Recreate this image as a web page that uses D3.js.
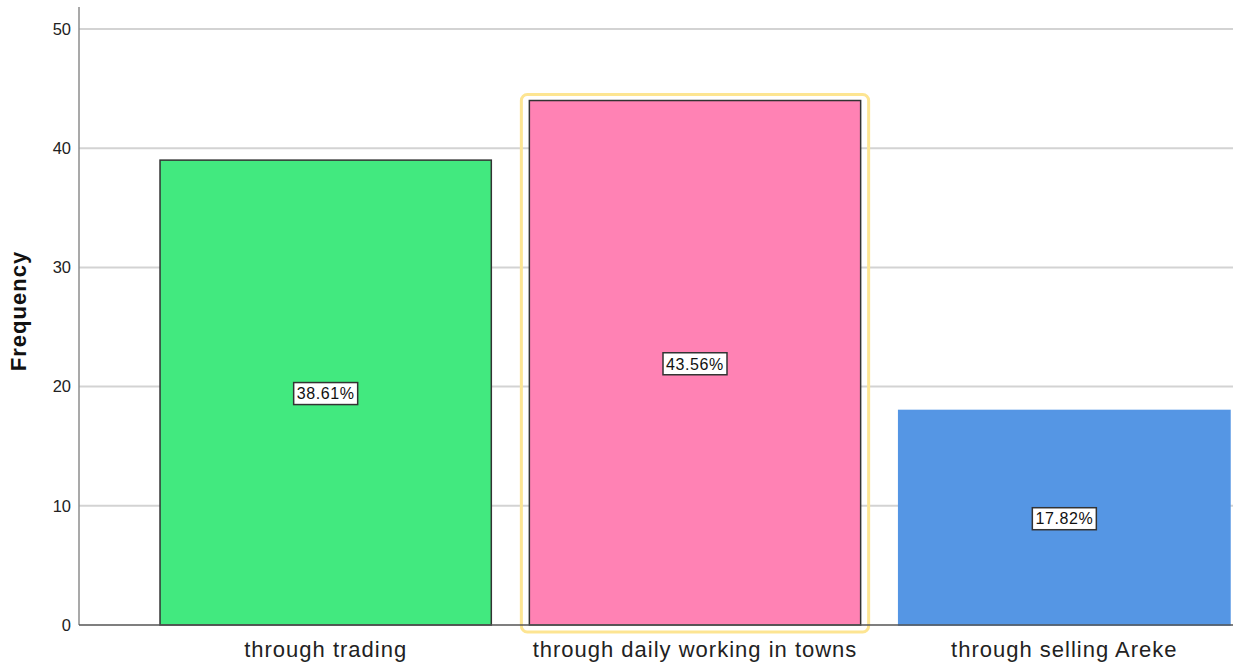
<!DOCTYPE html>
<html>
<head>
<meta charset="utf-8">
<script src="https://cdn.jsdelivr.net/npm/d3@7"></script>
<style>
  body { margin: 0; background: #fff; }
  text { font-family: Arial, "Liberation Sans", sans-serif; }
</style>
</head>
<body>
<svg class="chart" width="1233" height="667"></svg>
<script>
var categories = ["through trading", "through daily working in towns", "through selling Areke"];
var counts = [39, 44, 18];
var percentLabels = ["38.61%", "43.56%", "17.82%"];
var barColors = ["#42e97f", "#ff82b4", "#5596e4"];
var barStrokes = ["#333333", "#333333", "#5596e4"];
var yTicks = [0, 10, 20, 30, 40, 50];
var highlighted = 1;

var svg = d3.select(".chart"),
    width = +svg.attr("width"),
    height = +svg.attr("height");

var axisX = 79, baseY = 625, topY = 7;

var y = d3.scaleLinear()
    .domain([0, 50])
    .range([baseY, 29]);

var x = d3.scaleBand()
    .domain(categories)
    .range([141, 1249])
    .paddingInner(0.103)
    .paddingOuter(0.0515);

// gridlines
svg.append("g")
  .selectAll("line")
  .data(yTicks.filter(function(d) { return d > 0; }))
  .enter().append("line")
    .attr("x1", axisX).attr("x2", width)
    .attr("y1", function(d) { return y(d); })
    .attr("y2", function(d) { return y(d); })
    .style("stroke", "#d3d3d3")
    .style("stroke-width", 2);

// y axis
var yAxis = svg.append("g")
    .attr("transform", "translate(" + axisX + ",0)")
    .call(d3.axisLeft(y).tickValues(yTicks).tickSize(0).tickPadding(8));
yAxis.select(".domain").remove();
yAxis.selectAll("text")
    .style("font-size", "16.5px")
    .style("fill", "#222");

svg.append("line")
    .attr("x1", axisX).attr("x2", axisX)
    .attr("y1", topY).attr("y2", baseY)
    .style("stroke", "#8c8c8c")
    .style("stroke-width", 1.5);

// highlight box
svg.append("rect")
    .attr("x", x(categories[highlighted]) - 8)
    .attr("y", y(counts[highlighted]) - 6)
    .attr("width", x.bandwidth() + 16)
    .attr("height", baseY - y(counts[highlighted]) + 13)
    .attr("rx", 6)
    .style("fill", "none")
    .style("stroke", "#fde592")
    .style("stroke-width", 3);

// bars
svg.append("g")
  .selectAll("rect")
  .data(counts)
  .enter().append("rect")
    .attr("x", function(d, i) { return x(categories[i]); })
    .attr("y", function(d) { return y(d); })
    .attr("width", x.bandwidth())
    .attr("height", function(d) { return baseY - y(d); })
    .style("fill", function(d, i) { return barColors[i]; })
    .style("stroke", function(d, i) { return barStrokes[i]; })
    .style("stroke-width", 1.5);

// x baseline
svg.append("line")
    .attr("x1", axisX).attr("x2", width)
    .attr("y1", baseY).attr("y2", baseY)
    .style("stroke", "#555")
    .style("stroke-width", 1.5);

// value labels
var lab = svg.append("g")
  .selectAll("g")
  .data(counts)
  .enter().append("g")
    .attr("transform", function(d, i) {
      return "translate(" + (x(categories[i]) + x.bandwidth() / 2) + "," + ((y(d) + baseY) / 2 + 1) + ")";
    });
lab.append("rect")
    .attr("x", -32).attr("y", -11)
    .attr("width", 64).attr("height", 22)
    .style("fill", "#fff")
    .style("stroke", "#333")
    .style("stroke-width", 1.5);
lab.append("text")
    .attr("text-anchor", "middle")
    .attr("dy", "0.36em")
    .style("font-size", "16px")
    .style("letter-spacing", "0.6px")
    .style("fill", "#111")
    .text(function(d, i) { return percentLabels[i]; });

// category labels
svg.append("g")
  .selectAll("text")
  .data(categories)
  .enter().append("text")
    .attr("x", function(d) { return x(d) + x.bandwidth() / 2; })
    .attr("y", 657)
    .attr("text-anchor", "middle")
    .style("font-size", "22px")
    .style("letter-spacing", "1px")
    .style("fill", "#222")
    .text(function(d) { return d; });

// y title
svg.append("text")
    .attr("transform", "translate(26," + 311 + ") rotate(-90)")
    .attr("text-anchor", "middle")
    .style("font-size", "22px")
    .style("font-weight", "bold")
    .style("letter-spacing", "1px")
    .style("fill", "#111")
    .text("Frequency");
</script>
</body>
</html>
